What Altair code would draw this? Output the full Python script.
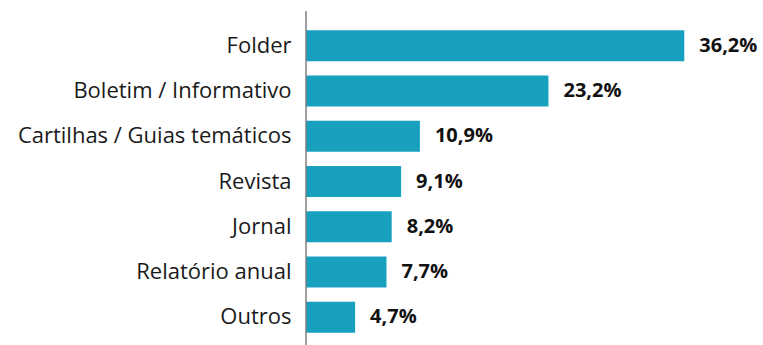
import altair as alt
import pandas as pd

categories = [
    "Folder",
    "Boletim / Informativo",
    "Cartilhas / Guias temáticos",
    "Revista",
    "Jornal",
    "Relatório anual",
    "Outros",
]
values = [36.2, 23.2, 10.9, 9.1, 8.2, 7.7, 4.7]
labels = ["36,2%", "23,2%", "10,9%", "9,1%", "8,2%", "7,7%", "4,7%"]

df = pd.DataFrame({"categoria": categories, "valor": values, "rotulo": labels})

PLOT_W = 418
PLOT_H = 317
BAR_COLOR = "#17a1bf"
FONT = "Open Sans"

y_enc = alt.Y(
    "categoria:N",
    sort=categories,
    scale=alt.Scale(paddingInner=0.316, paddingOuter=0.158),
    axis=alt.Axis(
        title=None,
        domain=False,
        ticks=False,
        labelPadding=15,
        labelFont=FONT,
        labelFontSize=22,
        labelColor="#1a1a1a",
        labelLimit=400,
    ),
)
x_enc = alt.X(
    "valor:Q",
    scale=alt.Scale(domain=[0, 40]),
    axis=None,
)

bars = alt.Chart(df).mark_bar(color=BAR_COLOR).encode(x=x_enc, y=y_enc)

text = (
    alt.Chart(df)
    .mark_text(
        align="left",
        baseline="middle",
        dx=15,
        font=FONT,
        fontSize=20,
        fontWeight="bold",
        color="#111111",
    )
    .encode(x=x_enc, y=y_enc, text="rotulo:N")
)

# vertical baseline running past the first and last bands
axis_line = (
    alt.Chart(df.head(1))
    .mark_rule(color="#7f7f7f", strokeWidth=1.5)
    .encode(x=alt.value(0), y=alt.value(-12), y2=alt.value(PLOT_H + 10))
)

chart = (
    alt.layer(bars, text, axis_line)
    .properties(
        width=PLOT_W,
        height=PLOT_H,
        autosize=alt.AutoSizeParams(type="none"),
        padding={"left": 306, "top": 23, "right": 39, "bottom": 5},
        background="white",
    )
    .configure_view(stroke=None)
)

chart.save("out.html", embed_options={"renderer": "svg", "actions": False})
